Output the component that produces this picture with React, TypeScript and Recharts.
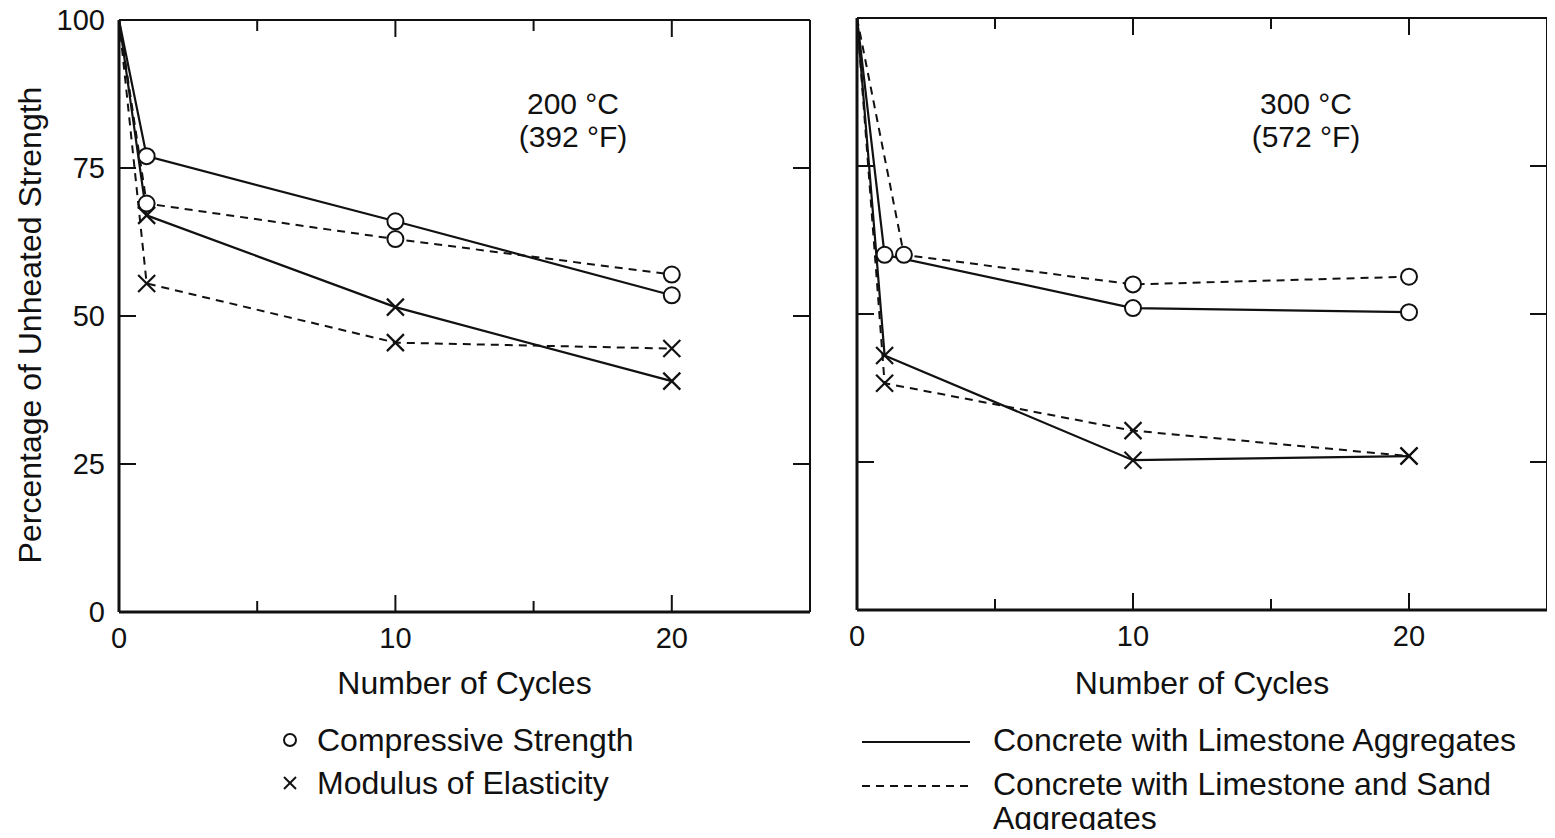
import React from "react";
import { LineChart, Line, XAxis, YAxis } from "recharts";

const FONT = '"Liberation Sans", Arial, Helvetica, sans-serif';
const INK = "#111";

// number of heating cycles
const cycles = [0, 1, 10, 20];
const cyclesSand300 = [0, 1.7, 10, 20];

// 200 °C (392 °F)
const cs200Limestone = [100, 77, 66, 53.5];
const cs200Sand = [100, 69, 63, 57];
const me200Limestone = [100, 67, 51.5, 39];
const me200Sand = [100, 55.5, 45.5, 44.5];

// 300 °C (572 °F)
const cs300Limestone = [100, 60, 51, 50.3];
const cs300Sand = [100, 60, 55, 56.3];
const me300Limestone = [100, 43, 25.3, 26];
const me300Sand = [100, 38.3, 30.3, 26];

const xTicks = [0, 5, 10, 15, 20, 25];
const xTickLabels = ["0", "", "10", "", "20", ""];
const yTicks = [0, 25, 50, 75, 100];
const yTickLabels = ["0", "25", "50", "75", "100"];

const toPoints = (xs: number[], ys: number[]) =>
  xs.map((x, i) => ({ x, y: ys[i] }));

const CircleDot = (props: any) => {
  const { cx, cy, index } = props;
  if (index === 0) return <g key={`c-${index}`} />;
  return (
    <circle
      key={`c-${index}`}
      cx={cx}
      cy={cy}
      r={8}
      fill="#fff"
      stroke={INK}
      strokeWidth={2}
    />
  );
};

const CrossDot = (props: any) => {
  const { cx, cy, index } = props;
  if (index === 0) return <g key={`x-${index}`} />;
  const s = 8.5;
  return (
    <g key={`x-${index}`} stroke={INK} strokeWidth={2.2}>
      <line x1={cx - s} y1={cy - s} x2={cx + s} y2={cy + s} />
      <line x1={cx - s} y1={cy + s} x2={cx + s} y2={cy - s} />
    </g>
  );
};

const majorLen = (v: number) => (v % 10 === 0 ? 17 : 11);

const BottomTick = (props: any) => {
  const { x, y, payload, index } = props;
  const v = payload.value;
  return (
    <g>
      {v !== 0 && v !== 25 && (
        <line x1={x} y1={y} x2={x} y2={y - majorLen(v)} stroke={INK} strokeWidth={2} />
      )}
      <text x={x} y={y + 36} textAnchor="middle" fontSize={29} fill={INK}>
        {xTickLabels[index]}
      </text>
    </g>
  );
};

const TopTick = (props: any) => {
  const { x, y, payload } = props;
  const v = payload.value;
  if (v === 0 || v === 25) return <g />;
  return <line x1={x} y1={y} x2={x} y2={y + majorLen(v)} stroke={INK} strokeWidth={2} />;
};

const makeLeftTick = (showLabels: boolean) => (props: any) => {
  const { x, y, payload, index } = props;
  const v = payload.value;
  return (
    <g>
      {v !== 0 && v !== 100 && (
        <line x1={x} y1={y} x2={x + 17} y2={y} stroke={INK} strokeWidth={2} />
      )}
      {showLabels && (
        <text x={x - 14} y={y + 10} textAnchor="end" fontSize={29} fill={INK}>
          {yTickLabels[index]}
        </text>
      )}
    </g>
  );
};

const RightTick = (props: any) => {
  const { x, y, payload } = props;
  const v = payload.value;
  if (v === 0 || v === 100) return <g />;
  return <line x1={x} y1={y} x2={x - 17} y2={y} stroke={INK} strokeWidth={2} />;
};

type PanelProps = {
  width: number;
  height: number;
  margin: { top: number; right: number; bottom: number; left: number };
  yAxisWidth: number;
  xAxisHeight: number;
  showYLabels: boolean;
  csLimestone: { x: number; y: number }[];
  csSand: { x: number; y: number }[];
  meLimestone: { x: number; y: number }[];
  meSand: { x: number; y: number }[];
};

function Panel({
  width,
  height,
  margin,
  yAxisWidth,
  xAxisHeight,
  showYLabels,
  csLimestone,
  csSand,
  meLimestone,
  meSand,
}: PanelProps) {
  const dash = "8 6";
  return (
    <LineChart width={width} height={height} margin={margin}>
      <XAxis
        xAxisId="b"
        type="number"
        dataKey="x"
        domain={[0, 25]}
        ticks={xTicks}
        allowDataOverflow
        interval={0}
        tickLine={false}
        tickSize={0}
        tickMargin={0}
        tick={BottomTick}
        height={xAxisHeight}
        axisLine={{ stroke: INK, strokeWidth: 3 }}
        label={{
          value: "Number of Cycles",
          position: "insideBottom",
          offset: 14,
          fontSize: 32,
          fill: INK,
        }}
      />
      <XAxis
        xAxisId="t"
        orientation="top"
        type="number"
        dataKey="x"
        domain={[0, 25]}
        ticks={xTicks}
        allowDataOverflow
        interval={0}
        tickLine={false}
        tickSize={0}
        tickMargin={0}
        tick={TopTick}
        height={1}
        axisLine={{ stroke: INK, strokeWidth: 2 }}
      />
      <YAxis
        yAxisId="l"
        type="number"
        dataKey="y"
        domain={[0, 100]}
        ticks={yTicks}
        allowDataOverflow
        interval={0}
        tickLine={false}
        tickSize={0}
        tickMargin={0}
        tick={makeLeftTick(showYLabels)}
        width={yAxisWidth}
        axisLine={{ stroke: INK, strokeWidth: 3 }}
      />
      <YAxis
        yAxisId="r"
        orientation="right"
        type="number"
        dataKey="y"
        domain={[0, 100]}
        ticks={yTicks}
        allowDataOverflow
        interval={0}
        tickLine={false}
        tickSize={0}
        tickMargin={0}
        tick={RightTick}
        width={1}
        axisLine={{ stroke: INK, strokeWidth: 2 }}
      />
      <Line
        xAxisId="b"
        yAxisId="l"
        data={meSand}
        dataKey="y"
        type="linear"
        stroke={INK}
        strokeWidth={2}
        strokeDasharray={dash}
        dot={CrossDot}
        activeDot={false}
        isAnimationActive={false}
      />
      <Line
        xAxisId="b"
        yAxisId="l"
        data={meLimestone}
        dataKey="y"
        type="linear"
        stroke={INK}
        strokeWidth={2.2}
        dot={CrossDot}
        activeDot={false}
        isAnimationActive={false}
      />
      <Line
        xAxisId="b"
        yAxisId="l"
        data={csLimestone}
        dataKey="y"
        type="linear"
        stroke={INK}
        strokeWidth={2.2}
        dot={CircleDot}
        activeDot={false}
        isAnimationActive={false}
      />
      <Line
        xAxisId="b"
        yAxisId="l"
        data={csSand}
        dataKey="y"
        type="linear"
        stroke={INK}
        strokeWidth={2}
        strokeDasharray={dash}
        dot={CircleDot}
        activeDot={false}
        isAnimationActive={false}
      />
    </LineChart>
  );
}

const legendText: React.CSSProperties = {
  position: "absolute",
  fontSize: 32,
  lineHeight: "34px",
  color: INK,
  whiteSpace: "nowrap",
};

export default function App() {
  return (
    <div
      style={{
        position: "relative",
        width: 1539,
        height: 822,
        fontFamily: FONT,
        color: INK,
        background: "#fff",
      }}
    >
      <div style={{ position: "absolute", left: 0, top: -8 }}>
        <Panel
          width={822}
          height={708}
          margin={{ top: 19, right: 19, bottom: 0, left: 0 }}
          yAxisWidth={111}
          xAxisHeight={96}
          showYLabels
          csLimestone={toPoints(cycles, cs200Limestone)}
          csSand={toPoints(cycles, cs200Sand)}
          meLimestone={toPoints(cycles, me200Limestone)}
          meSand={toPoints(cycles, me200Sand)}
        />
      </div>
      <div style={{ position: "absolute", left: 832, top: -8 }}>
        <Panel
          width={711}
          height={708}
          margin={{ top: 17, right: 3, bottom: 0, left: 0 }}
          yAxisWidth={17}
          xAxisHeight={98}
          showYLabels={false}
          csLimestone={toPoints(cycles, cs300Limestone)}
          csSand={toPoints(cyclesSand300, cs300Sand)}
          meLimestone={toPoints(cycles, me300Limestone)}
          meSand={toPoints(cycles, me300Sand)}
        />
      </div>

      {/* y axis title */}
      <div
        style={{
          position: "absolute",
          left: 22,
          top: 317,
          fontSize: 32,
          whiteSpace: "nowrap",
          transform: "translate(-50%, -50%) rotate(-90deg)",
        }}
      >
        Percentage of Unheated Strength
      </div>

      {/* temperature annotations */}
      <div
        style={{
          position: "absolute",
          left: 565,
          top: 79,
          fontSize: 30,
          lineHeight: "33px",
          textAlign: "center",
          transform: "translateX(-50%)",
          whiteSpace: "nowrap",
        }}
      >
        200 °C
        <br />
        (392 °F)
      </div>
      <div
        style={{
          position: "absolute",
          left: 1298,
          top: 79,
          fontSize: 30,
          lineHeight: "33px",
          textAlign: "center",
          transform: "translateX(-50%)",
          whiteSpace: "nowrap",
        }}
      >
        300 °C
        <br />
        (572 °F)
      </div>

      {/* marker legend */}
      <svg
        style={{ position: "absolute", left: 270, top: 720 }}
        width={30}
        height={80}
      >
        <circle cx={12} cy={12} r={6} fill="#fff" stroke={INK} strokeWidth={2} />
        <line x1={6} y1={49} x2={18} y2={61} stroke={INK} strokeWidth={2} />
        <line x1={6} y1={61} x2={18} y2={49} stroke={INK} strokeWidth={2} />
      </svg>
      <div style={{ ...legendText, left: 309, top: 715 }}>Compressive Strength</div>
      <div style={{ ...legendText, left: 309, top: 758 }}>Modulus of Elasticity</div>

      {/* line style legend */}
      <svg
        style={{ position: "absolute", left: 850, top: 720 }}
        width={120}
        height={80}
      >
        <line x1={4} y1={14} x2={112} y2={14} stroke={INK} strokeWidth={2} />
        <line
          x1={4}
          y1={58}
          x2={112}
          y2={58}
          stroke={INK}
          strokeWidth={2}
          strokeDasharray="8 6"
        />
      </svg>
      <div style={{ ...legendText, left: 985, top: 715 }}>
        Concrete with Limestone Aggregates
      </div>
      <div style={{ ...legendText, left: 985, top: 759 }}>
        Concrete with Limestone and Sand
        <br />
        Aggregates
      </div>
    </div>
  );
}
